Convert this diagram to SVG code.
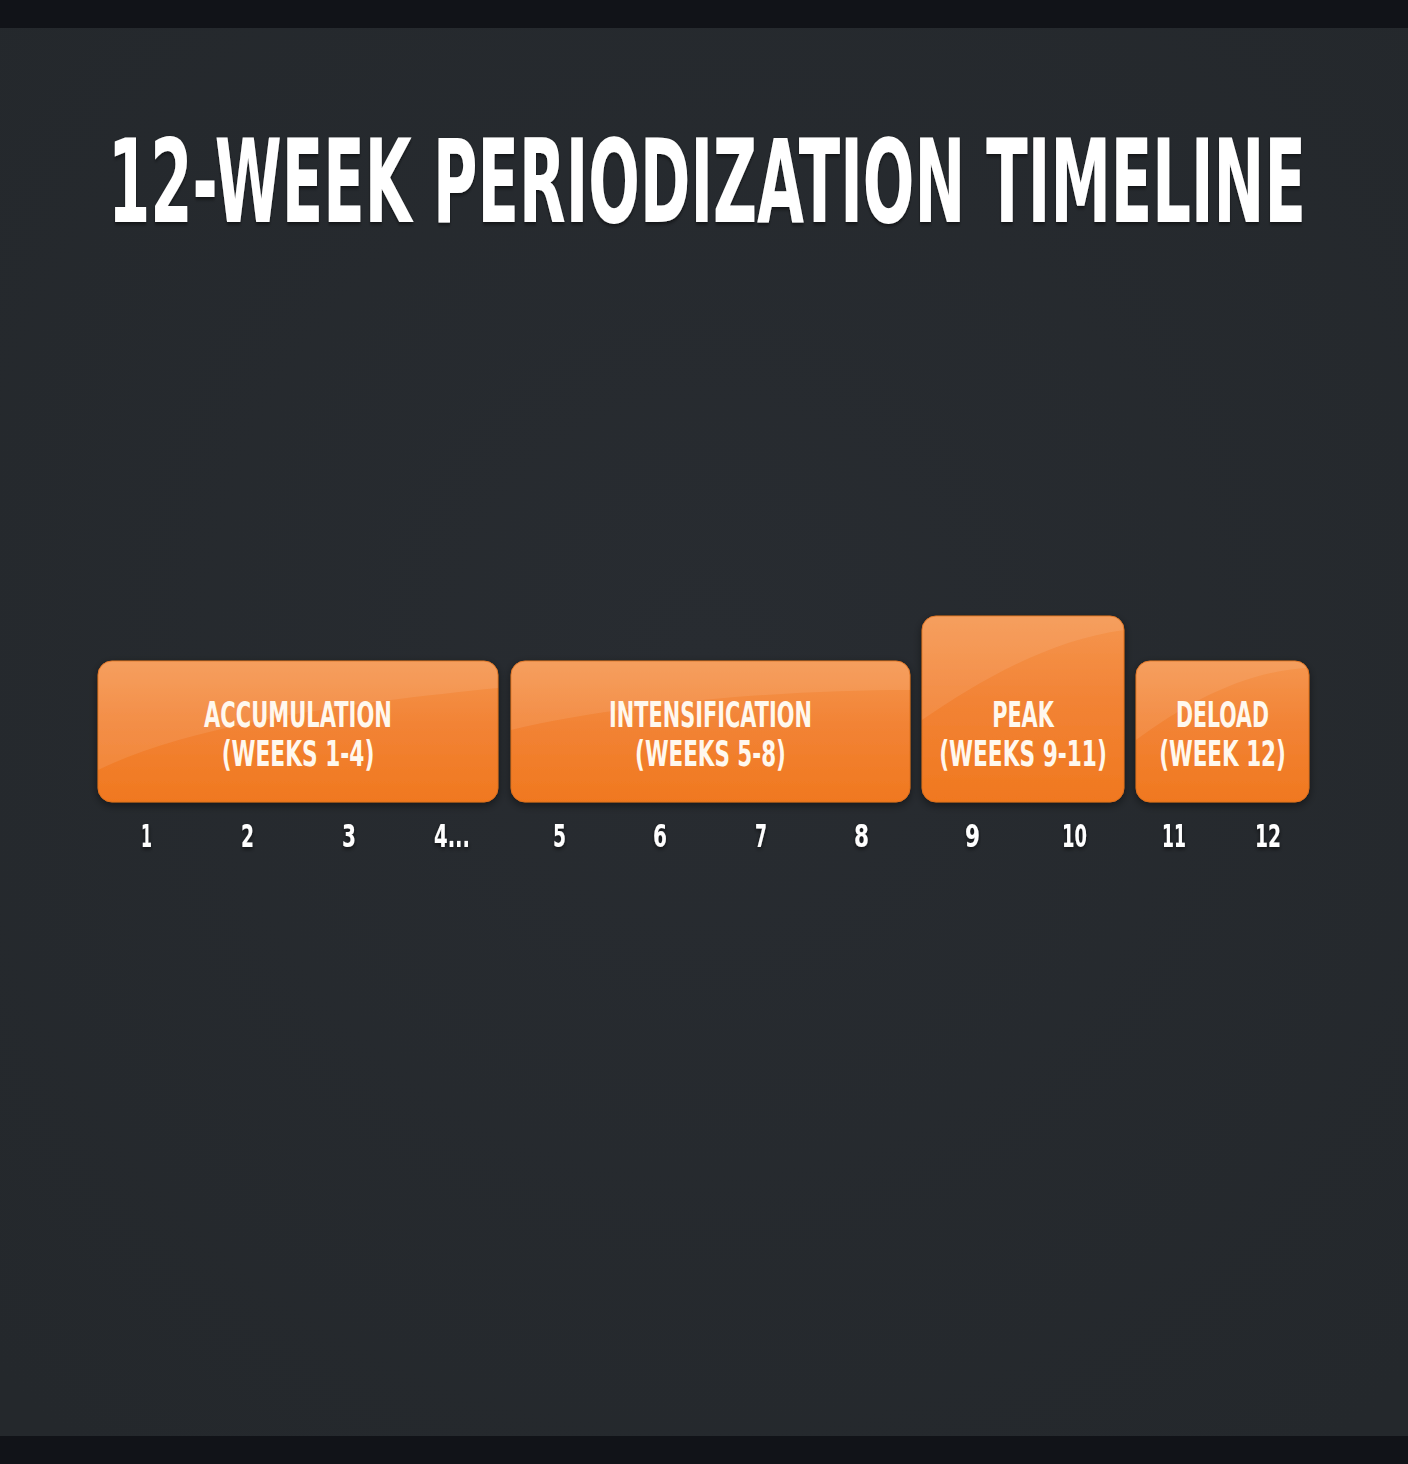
<svg xmlns="http://www.w3.org/2000/svg" width="1408" height="1464" viewBox="0 0 1408 1464">
<defs>
<radialGradient id="bg" cx="0.5" cy="0.45" r="0.7">
<stop offset="0" stop-color="#282c31"/>
<stop offset="1" stop-color="#24282c"/>
</radialGradient>
<linearGradient id="org" x1="0" y1="0" x2="0" y2="1">
<stop offset="0" stop-color="#f5964f"/>
<stop offset="0.45" stop-color="#f28335"/>
<stop offset="1" stop-color="#f0781f"/>
</linearGradient>
<filter id="sh" x="-10%" y="-20%" width="120%" height="150%">
<feDropShadow dx="0" dy="3" stdDeviation="4" flood-color="#000" flood-opacity="0.45"/>
</filter>
<filter id="tsh" x="-5%" y="-20%" width="110%" height="150%">
<feDropShadow dx="0" dy="2" stdDeviation="2" flood-color="#000" flood-opacity="0.6"/>
</filter>
<clipPath id="c1"><rect x="98" y="661" width="400" height="141" rx="14"/></clipPath>
<clipPath id="c2"><rect x="511" y="661" width="399" height="141" rx="14"/></clipPath>
<clipPath id="c3"><rect x="922" y="616" width="202" height="186" rx="14"/></clipPath>
<clipPath id="c4"><rect x="1136" y="661" width="173" height="141" rx="14"/></clipPath>
</defs>
<style>
.box{fill:url(#org);stroke:#e0701c;stroke-width:1;filter:url(#sh)}
.gloss{fill:#ffffff;opacity:0.09}
.lbl{font-family:"DejaVu Sans Condensed","DejaVu Sans",sans-serif;font-weight:bold;font-size:36px;fill:#fff8ee;text-anchor:middle}
.num{font-family:"DejaVu Sans Condensed","DejaVu Sans",sans-serif;font-weight:bold;font-size:32px;fill:#ffffff;text-anchor:middle;filter:url(#tsh)}
.title{font-family:"DejaVu Sans Condensed","DejaVu Sans",sans-serif;font-weight:bold;font-size:116px;fill:#ffffff;text-anchor:middle;filter:url(#tsh)}
</style>
<rect x="0" y="0" width="1408" height="1464" fill="url(#bg)"/>
<rect x="0" y="0" width="1408" height="28" fill="#111318"/>
<rect x="0" y="1436" width="1408" height="28" fill="#111318"/>

<g id="title">
<text class="title" transform="translate(707 222) scale(0.55 1)" x="0" y="0" textLength="2178" lengthAdjust="spacingAndGlyphs">12-WEEK PERIODIZATION TIMELINE</text>
</g>

<g id="node-accumulation">
<rect class="box" x="98" y="661" width="400" height="141" rx="14"/>
<g clip-path="url(#c1)"><path class="gloss" d="M98 661 H498 V688 C380 700 200 720 98 770 Z"/></g>
<text class="lbl" transform="translate(298 727) scale(0.65 1)" x="0" y="0" textLength="289" lengthAdjust="spacingAndGlyphs">ACCUMULATION</text>
<text class="lbl" transform="translate(298 766) scale(0.65 1)" x="0" y="0" textLength="235" lengthAdjust="spacingAndGlyphs">(WEEKS 1-4)</text>
</g>

<g id="node-intensification">
<rect class="box" x="511" y="661" width="399" height="141" rx="14"/>
<g clip-path="url(#c2)"><path class="gloss" d="M511 661 H910 V690 C800 690 640 700 511 730 Z"/></g>
<text class="lbl" transform="translate(710.5 727) scale(0.65 1)" x="0" y="0" textLength="312" lengthAdjust="spacingAndGlyphs">INTENSIFICATION</text>
<text class="lbl" transform="translate(710.5 766) scale(0.65 1)" x="0" y="0" textLength="232" lengthAdjust="spacingAndGlyphs">(WEEKS 5-8)</text>
</g>

<g id="node-peak">
<rect class="box" x="922" y="616" width="202" height="186" rx="14"/>
<g clip-path="url(#c3)"><path class="gloss" d="M922 616 H1124 V630 C1050 640 980 680 922 720 Z"/></g>
<text class="lbl" transform="translate(1023 727) scale(0.65 1)" x="0" y="0" textLength="95" lengthAdjust="spacingAndGlyphs">PEAK</text>
<text class="lbl" transform="translate(1023 766) scale(0.65 1)" x="0" y="0" textLength="258" lengthAdjust="spacingAndGlyphs">(WEEKS 9-11)</text>
</g>

<g id="node-deload">
<rect class="box" x="1136" y="661" width="173" height="141" rx="14"/>
<g clip-path="url(#c4)"><path class="gloss" d="M1136 661 H1309 V668 C1250 670 1190 700 1136 740 Z"/></g>
<text class="lbl" transform="translate(1222.5 727) scale(0.65 1)" x="0" y="0" textLength="143" lengthAdjust="spacingAndGlyphs">DELOAD</text>
<text class="lbl" transform="translate(1222.5 766) scale(0.65 1)" x="0" y="0" textLength="195" lengthAdjust="spacingAndGlyphs">(WEEK 12)</text>
</g>

<g id="connectors"></g>

<g id="week-numbers">
<text class="num" x="146.5" y="847" textLength="11" lengthAdjust="spacingAndGlyphs">1</text>
<text class="num" x="247.5" y="847" textLength="13" lengthAdjust="spacingAndGlyphs">2</text>
<text class="num" x="349" y="847" textLength="14" lengthAdjust="spacingAndGlyphs">3</text>
<text class="num" x="452" y="847" textLength="36" lengthAdjust="spacingAndGlyphs">4...</text>
<text class="num" x="559.5" y="847" textLength="13" lengthAdjust="spacingAndGlyphs">5</text>
<text class="num" x="660" y="847" textLength="14" lengthAdjust="spacingAndGlyphs">6</text>
<text class="num" x="761" y="847" textLength="12" lengthAdjust="spacingAndGlyphs">7</text>
<text class="num" x="861.5" y="847" textLength="15" lengthAdjust="spacingAndGlyphs">8</text>
<text class="num" x="972.5" y="847" textLength="15" lengthAdjust="spacingAndGlyphs">9</text>
<text class="num" x="1074.5" y="847" textLength="25" lengthAdjust="spacingAndGlyphs">10</text>
<text class="num" x="1174" y="847" textLength="24" lengthAdjust="spacingAndGlyphs">11</text>
<text class="num" x="1268" y="847" textLength="26" lengthAdjust="spacingAndGlyphs">12</text>
</g>
</svg>
